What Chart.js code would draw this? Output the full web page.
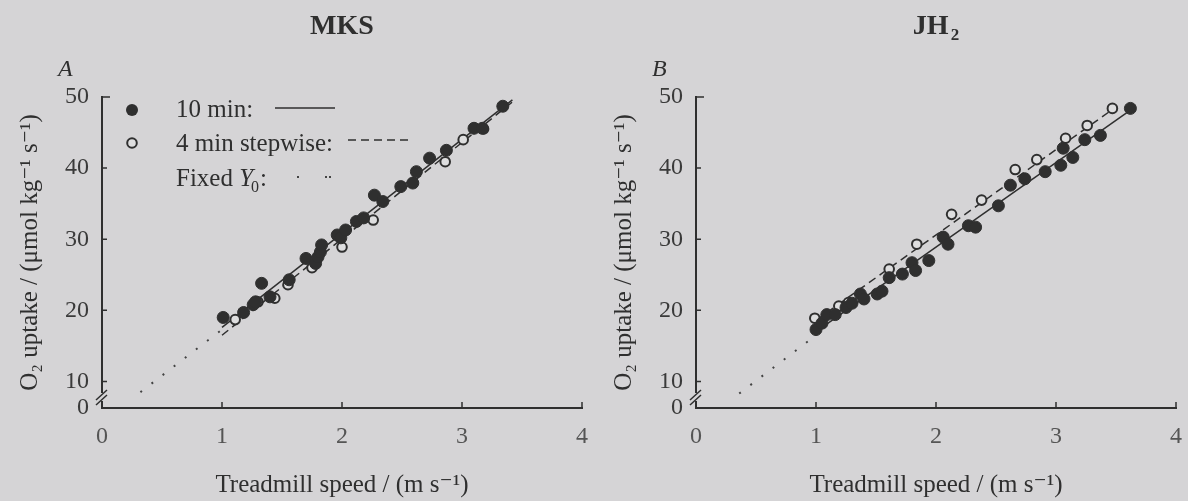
<!DOCTYPE html>
<html>
<head>
<meta charset="utf-8">
<script src="https://cdn.jsdelivr.net/npm/chart.js@4.4.0/dist/chart.umd.min.js"></script>
<style>
  html, body { margin: 0; padding: 0; background: #d5d4d6; }
  #wrap { width: 1188px; height: 501px; display: flex; }
  canvas { display: block; }
</style>
</head>
<body>
<div id="wrap">
  <canvas id="chartA" width="594" height="501"></canvas>
  <canvas id="chartB" width="594" height="501"></canvas>
</div>
<script>
// ---- data ----
const xTicks = [0, 1, 2, 3, 4];
const xTickLabels = ['0', '1', '2', '3', '4'];
const yBreak = 6.27;               // bottom of the broken axis, labelled "0"
const yTicks = [yBreak, 10, 20, 30, 40, 50];
const yTickLabels = ['0', '10', '20', '30', '40', '50'];

// panel A, MKS
const mksFilledX = [1.01, 1.18, 1.26, 1.28, 1.33, 1.40, 1.56, 1.70, 1.78, 1.80, 1.82, 1.83, 1.96, 1.99, 2.03, 2.12, 2.18, 2.27, 2.34, 2.49, 2.59, 2.62, 2.73, 2.87, 3.10, 3.17, 3.34];
const mksFilledY = [19.0, 19.7, 20.8, 21.2, 23.8, 21.9, 24.3, 27.3, 26.6, 27.5, 28.2, 29.2, 30.6, 30.2, 31.3, 32.5, 33.0, 36.2, 35.3, 37.4, 37.9, 39.5, 41.4, 42.5, 45.6, 45.6, 48.7];
const mksOpenX = [1.11, 1.30, 1.44, 1.55, 1.75, 2.00, 2.26, 2.86, 3.01, 3.18];
const mksOpenY = [18.7, 21.2, 21.7, 23.6, 26.0, 28.9, 32.7, 40.9, 44.0, 45.5];
const mksSolidX = [1.0, 3.42];
const mksSolidY = [17.6, 49.6];
const mksDashX = [1.0, 3.42];
const mksDashY = [16.5, 49.3];
const mksFixedX = [0.32, 1.0];
const mksFixedY = [8.5, 17.3];

// panel B, JH2
const jhFilledX = [1.00, 1.05, 1.09, 1.16, 1.25, 1.30, 1.37, 1.40, 1.51, 1.55, 1.61, 1.72, 1.80, 1.83, 1.94, 2.06, 2.10, 2.27, 2.33, 2.52, 2.62, 2.74, 2.91, 3.04, 3.06, 3.14, 3.24, 3.37, 3.62];
const jhFilledY = [17.3, 18.2, 19.4, 19.4, 20.4, 21.0, 22.3, 21.6, 22.3, 22.7, 24.6, 25.1, 26.7, 25.6, 27.0, 30.3, 29.3, 31.9, 31.7, 34.7, 37.6, 38.5, 39.5, 40.4, 42.8, 41.5, 44.0, 44.6, 48.4];
const jhOpenX = [0.99, 1.19, 1.27, 1.61, 1.84, 2.13, 2.38, 2.66, 2.84, 3.08, 3.26, 3.47];
const jhOpenY = [18.9, 20.6, 21.1, 25.8, 29.3, 33.5, 35.5, 39.8, 41.2, 44.2, 46.0, 48.4];
const jhSolidX = [1.0, 3.65];
const jhSolidY = [17.0, 48.5];
const jhDashX = [1.0, 3.5];
const jhDashY = [18.6, 48.6];
const jhFixedX = [0.36, 1.0];
const jhFixedY = [8.3, 16.5];

const xTitle = 'Treadmill speed / (m s\u207B\u00B9)';
const yTitle = 'O\u2082 uptake / (\u03BCmol kg\u207B\u00B9 s\u207B\u00B9)';

const ink = '#2f2f2f';
const paper = '#d5d4d6';
const serif = '"Liberation Serif", "DejaVu Serif", serif';

const toXY = (xs, ys) => xs.map((v, i) => ({ x: v, y: ys[i] }));

function makeDatasets(fx, fy, ox, oy, sx, sy, dx, dy, zx, zy) {
  return [
    { data: toXY(fx, fy), pointRadius: 6, pointBackgroundColor: ink, pointBorderColor: ink, pointBorderWidth: 1 },
    { data: toXY(ox, oy), pointRadius: 4.8, pointBackgroundColor: '#dededf', pointBorderColor: ink, pointBorderWidth: 2 },
    { data: toXY(sx, sy), showLine: true, pointRadius: 0, borderColor: ink, borderWidth: 1.5 },
    { data: toXY(dx, dy), showLine: true, pointRadius: 0, borderColor: ink, borderWidth: 1.5, borderDash: [8, 5] },
    { data: toXY(zx, zy), showLine: true, pointRadius: 0, borderColor: '#444', borderWidth: 2, borderDash: [2, 12] }
  ];
}

// titles, panel letter, inward ticks, axis break and the key
const panelDecor = {
  id: 'panelDecor',
  afterDraw(chart, args, opts) {
    const { ctx, chartArea: a, scales: { x, y } } = chart;
    ctx.save();
    ctx.strokeStyle = ink;
    ctx.fillStyle = ink;
    ctx.lineWidth = 1.5;

    ctx.beginPath();
    yTicks.forEach((v, i) => {
      if (i === 0) return;
      const py = y.getPixelForValue(v);
      ctx.moveTo(a.left, py);
      ctx.lineTo(a.left + (i === yTicks.length - 1 ? 8 : 5), py);
    });
    xTicks.forEach((v, i) => {
      if (i === 0) return;
      const px = x.getPixelForValue(v);
      ctx.moveTo(px, a.bottom);
      ctx.lineTo(px, a.bottom - 6);
    });
    ctx.stroke();

    // break in the y axis
    ctx.fillStyle = paper;
    ctx.fillRect(a.left - 3, a.bottom - 15, 6, 8);
    ctx.beginPath();
    ctx.moveTo(a.left - 6, a.bottom - 8); ctx.lineTo(a.left + 5, a.bottom - 18);
    ctx.moveTo(a.left - 6, a.bottom - 3); ctx.lineTo(a.left + 5, a.bottom - 13);
    ctx.stroke();

    // panel title
    ctx.fillStyle = ink;
    ctx.textBaseline = 'alphabetic';
    const cx = (a.left + a.right) / 2;
    ctx.font = 'bold 28px ' + serif;
    const w1 = ctx.measureText(opts.title).width;
    let w2 = 0;
    if (opts.sub) { ctx.font = 'bold 17px ' + serif; w2 = ctx.measureText(opts.sub).width + 2; }
    ctx.font = 'bold 28px ' + serif;
    ctx.textAlign = 'left';
    ctx.fillText(opts.title, cx - (w1 + w2) / 2, 34);
    if (opts.sub) {
      ctx.font = 'bold 17px ' + serif;
      ctx.fillText(opts.sub, cx - (w1 + w2) / 2 + w1 + 2, 40);
    }

    ctx.font = 'italic 24px ' + serif;
    ctx.fillText(opts.letter, a.left - 44, 76);

    if (opts.key) {
      const kx = a.left + 74;
      ctx.font = '25px ' + serif;
      ctx.fillText('10 min:', kx, 117);
      ctx.fillText('4 min stepwise:', kx, 151);
      ctx.fillText('Fixed ', kx, 186);
      let fx = kx + ctx.measureText('Fixed ').width;
      ctx.font = 'italic 25px ' + serif;
      ctx.fillText('Y', fx, 186);
      fx += ctx.measureText('Y').width;
      ctx.font = '16px ' + serif;
      ctx.fillText('0', fx - 2, 192);
      fx += ctx.measureText('0').width - 1;
      ctx.font = '25px ' + serif;
      ctx.fillText(':', fx, 186);

      // key symbols
      ctx.beginPath();
      ctx.arc(a.left + 30, 110, 6, 0, Math.PI * 2);
      ctx.fill();
      ctx.beginPath();
      ctx.fillStyle = '#dededf';
      ctx.arc(a.left + 30, 143, 4.8, 0, Math.PI * 2);
      ctx.fill();
      ctx.lineWidth = 2;
      ctx.stroke();
      ctx.lineWidth = 1.5;
      ctx.beginPath();
      ctx.moveTo(a.left + 173, 108); ctx.lineTo(a.left + 233, 108);
      ctx.stroke();
      ctx.setLineDash([8, 5]);
      ctx.beginPath();
      ctx.moveTo(a.left + 246, 140); ctx.lineTo(a.left + 306, 140);
      ctx.stroke();
      ctx.setLineDash([]);
      ctx.fillStyle = '#444';
      [195, 223, 227].forEach(dx => ctx.fillRect(a.left + dx, 176, 2, 2));
    }
    ctx.restore();
  }
};

function buildChart(id, datasets, decor) {
  return new Chart(document.getElementById(id), {
    type: 'scatter',
    data: { datasets },
    options: {
      responsive: false,
      animation: false,
      events: [],
      layout: { padding: { top: 97, right: 12, bottom: 0, left: 0 } },
      plugins: {
        legend: { display: false },
        tooltip: { enabled: false },
        panelDecor: decor
      },
      scales: {
        x: {
          type: 'linear', min: 0, max: 4,
          afterBuildTicks: s => { s.ticks = xTicks.map(v => ({ value: v })); },
          afterFit: s => { s.height = 93; s.paddingLeft = 0; s.paddingRight = 0; },
          grid: { display: false, drawTicks: false },
          border: { display: true, color: ink, width: 2 },
          ticks: { padding: 14, color: '#555', font: { family: serif, size: 24 },
                   callback: (v, i) => xTickLabels[i] },
          title: { display: true, text: xTitle, color: ink, font: { family: serif, size: 25 },
                   padding: { top: 0, bottom: 1 } }
        },
        y: {
          type: 'linear', min: yBreak, max: 50,
          afterBuildTicks: s => { s.ticks = yTicks.map(v => ({ value: v })); },
          afterFit: s => { s.width = 102; },
          grid: { display: false, drawTicks: false },
          border: { display: true, color: ink, width: 2 },
          ticks: { padding: 13, color: '#3a3a3a', font: { family: serif, size: 24 },
                   callback: (v, i) => yTickLabels[i] },
          title: { display: true, text: yTitle, color: ink, font: { family: serif, size: 25 },
                   padding: { top: 15, bottom: 0 } }
        }
      }
    },
    plugins: [panelDecor]
  });
}

buildChart('chartA',
  makeDatasets(mksFilledX, mksFilledY, mksOpenX, mksOpenY, mksSolidX, mksSolidY, mksDashX, mksDashY, mksFixedX, mksFixedY),
  { title: 'MKS', letter: 'A', key: true });

buildChart('chartB',
  makeDatasets(jhFilledX, jhFilledY, jhOpenX, jhOpenY, jhSolidX, jhSolidY, jhDashX, jhDashY, jhFixedX, jhFixedY),
  { title: 'JH', sub: '2', letter: 'B', key: false });
</script>
</body>
</html>
